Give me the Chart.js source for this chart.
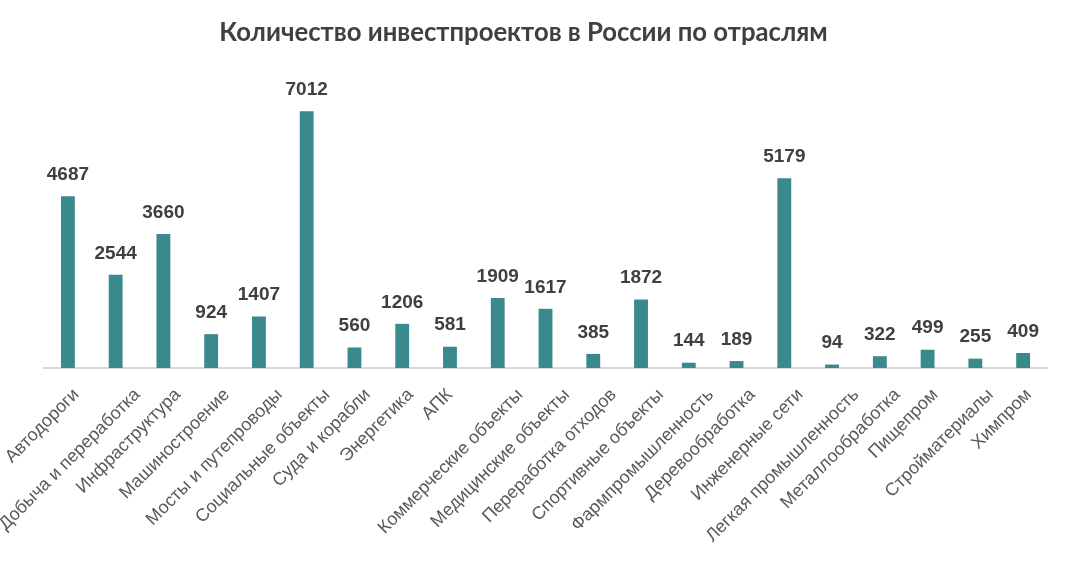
<!DOCTYPE html>
<html>
<head>
<meta charset="utf-8">
<script src="https://cdn.jsdelivr.net/npm/chart.js@4/dist/chart.umd.min.js"></script>
<style>
  html, body { margin: 0; padding: 0; background: #fff; }
  #wrap { width: 1065px; height: 561px; }
</style>
</head>
<body>
<div id="wrap"><canvas id="chart"></canvas></div>
<script>
const chart_title = "Количество инвестпроектов в России по отраслям";

const industries = [
    "Автодороги", "Добыча и переработка", "Инфраструктура", "Машиностроение",
    "Мосты и путепроводы", "Социальные объекты", "Суда и корабли", "Энергетика",
    "АПК", "Коммерческие объекты", "Медицинские объекты", "Переработка отходов",
    "Спортивные объекты", "Фармпромышленность", "Деревообработка", "Инженерные сети",
    "Легкая промышленность", "Металлообработка", "Пищепром", "Стройматериалы", "Химпром"
];

const project_counts = [
    4687, 2544, 3660, 924, 1407, 7012, 560, 1206, 581, 1909, 1617,
    385, 1872, 144, 189, 5179, 94, 322, 499, 255, 409
];

// draws the numbers above each bar (no datalabels plugin offline)
const value_labels = {
    id: "value_labels",
    afterDatasetsDraw(chart) {
        const ctx = chart.ctx;
        const meta = chart.getDatasetMeta(0);
        ctx.save();
        ctx.font = "bold 19px 'Liberation Sans', Arial, sans-serif";
        ctx.fillStyle = "#404040";
        ctx.textAlign = "center";
        ctx.textBaseline = "bottom";
        meta.data.forEach((bar, i) => {
            ctx.fillText(String(chart.data.datasets[0].data[i]), bar.x, bar.y - 12);
        });
        ctx.restore();
    }
};

// excel-style slanted category names: longer names sit a bit further right of the tick
const slanted_labels = {
    id: "slanted_labels",
    afterDraw(chart) {
        const ctx = chart.ctx;
        const xs = chart.scales.x;
        ctx.save();
        ctx.font = "18px 'Liberation Sans', Arial, sans-serif";
        ctx.fillStyle = "#595959";
        ctx.textAlign = "right";
        ctx.textBaseline = "middle";
        chart.data.labels.forEach((lbl, i) => {
            const w = ctx.measureText(lbl).width;
            const x = xs.getPixelForTick(i) + 0.14 * w - 5;
            const y = xs.top + 24;
            ctx.save();
            ctx.translate(x, y);
            ctx.rotate(-Math.PI / 4);
            ctx.fillText(lbl, 0, 0);
            ctx.restore();
        });
        ctx.restore();
    }
};

new Chart(document.getElementById("chart").getContext("2d"), {
    type: "bar",
    data: {
        labels: industries,
        datasets: [{
            data: project_counts,
            backgroundColor: "#3A898C",
            categoryPercentage: 1,
            barPercentage: 0.29
        }]
    },
    options: {
        responsive: true,
        maintainAspectRatio: false,
        animation: false,
        layout: { padding: { right: 18 } },
        plugins: {
            legend: { display: false },
            tooltip: { enabled: false },
            title: {
                display: true,
                text: chart_title,
                color: "#404040",
                font: { family: "Lato, 'Open Sans', sans-serif", size: 25.7, weight: "bold" },
                padding: { top: 17, bottom: 27.2 }
            }
        },
        scales: {
            y: {
                display: false,
                min: 0,
                max: 8000
            },
            x: {
                grid: { display: false, drawTicks: false },
                border: { display: true, color: "#D9D9D9", width: 2 },
                ticks: { display: false },
                // fixed plot box; names are drawn by slanted_labels
                afterFit(scale) {
                    scale.height = 193;
                    scale.paddingLeft = 44;
                    scale.paddingRight = 0;
                }
            }
        }
    },
    plugins: [value_labels, slanted_labels]
});
</script>
</body>
</html>
